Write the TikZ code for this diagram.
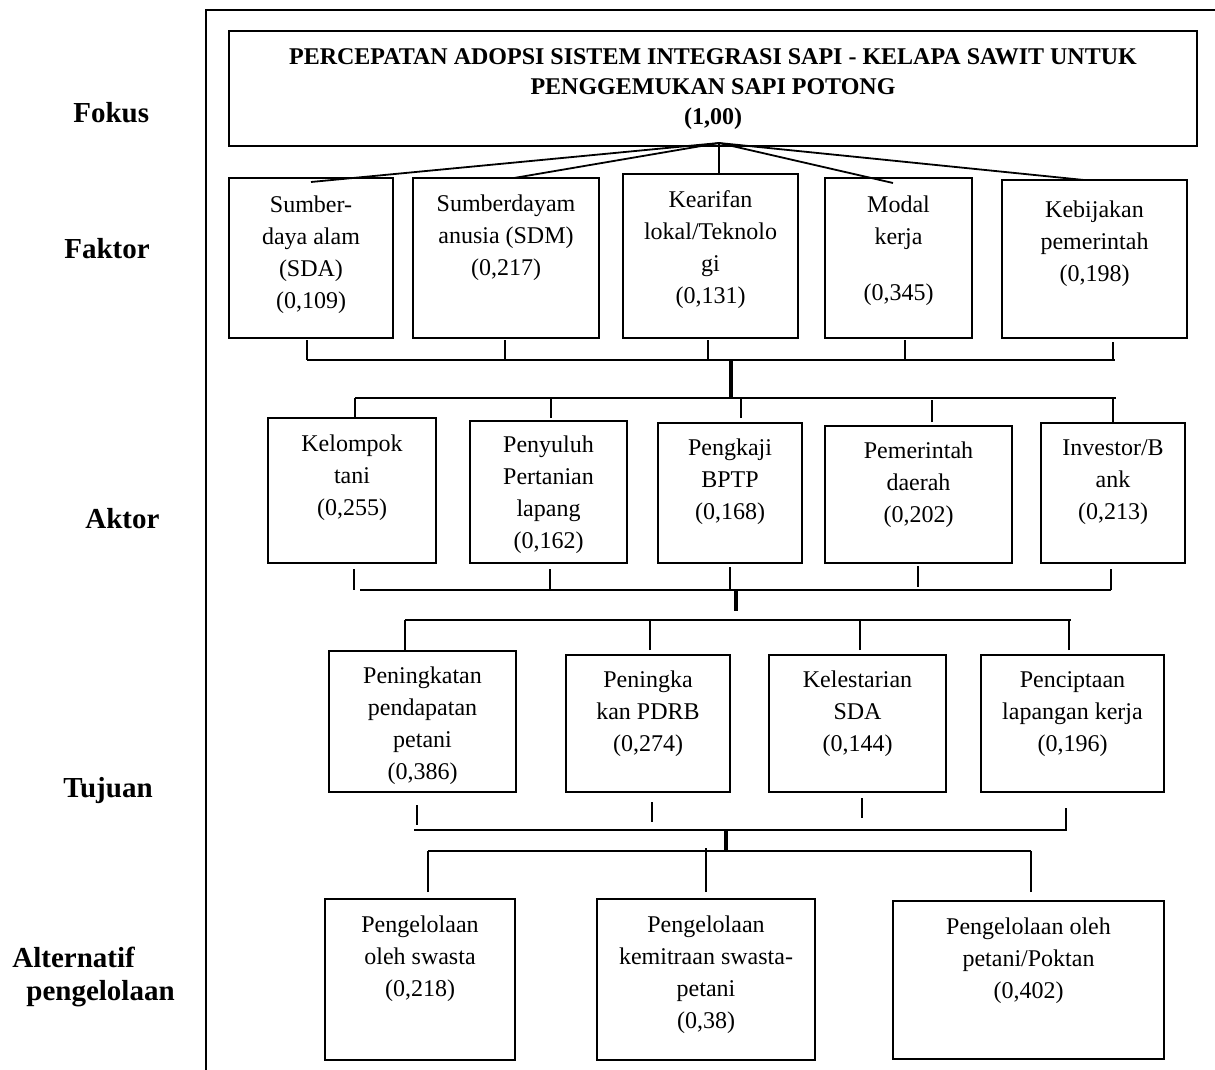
\documentclass[tikz,border=0pt]{standalone}
\usepackage{fontspec}
\setmainfont{Liberation Serif}
\usetikzlibrary{calc}
% #1 style, #2 name, #3 x1, #4 y1, #5 x2, #6 y2 (px), #7 first baseline offset (px), #8 text
\newcommand{\mkbox}[8]{%
  \node[#1] (#2) at (#3,#4) {\parbox[c][\dimexpr(#6pt-#4pt)/2\relax][t]{\dimexpr(#5pt-#3pt)/2\relax}{\centering\rule{0pt}{\dimexpr#7pt/2\relax}#8}};}
\begin{document}
\begin{tikzpicture}[x=0.5pt,y=-0.5pt,
  box/.style={draw, line width=1pt, inner sep=0pt, outer sep=0pt, anchor=north west,
    font=\fontsize{12}{16}\selectfont},
  ttl/.style={box, font=\bfseries\fontsize{12}{15}\selectfont},
  lbl/.style={inner sep=0pt, anchor=base west, font=\bfseries\fontsize{14.5}{16.5}\selectfont},
  bus/.style={line width=1pt},
  stub/.style={line width=0.7pt},
  trunk/.style={line width=2pt},
  fan/.style={line width=0.9pt},
  frame/.style={line width=1pt}]
\useasboundingbox (0,0) rectangle (1215,1070);

% frame
\coordinate (frbl) at (206,1072);
\coordinate (frtl) at (206,10);
\coordinate (frtr) at (1216,10);
\draw[frame] (frbl) -- (frtl) -- (frtr);

% level labels
\node[lbl] (lfokus) at (73,123) {Fokus};
\node[lbl] (lfaktor) at (64,258) {Faktor};
\node[lbl] (laktor) at (85,528) {Aktor};
\node[lbl] (ltujuan) at (63,797) {Tujuan};
\node[lbl] (lalt) at (12,967) {Alternatif};
\node[lbl] (lpeng) at (26,1000) {pengelolaan};

% focus
\mkbox{ttl}{title}{229}{31}{1197}{146}{34}{PERCEPATAN ADOPSI SISTEM INTEGRASI SAPI - KELAPA SAWIT UNTUK\\PENGGEMUKAN SAPI POTONG\\(1,00)}

% factors
\mkbox{box}{f1}{229}{178}{393}{338}{34}{Sumber-\\daya alam\\(SDA)\\(0,109)}
\mkbox{box}{f2}{413}{178}{599}{338}{33}{Sumberdayam\\anusia (SDM)\\(0,217)}
\mkbox{box}{f3}{623}{174}{798}{338}{33}{Kearifan\\lokal/Teknolo\\gi\\(0,131)}
\mkbox{box}{f4}{825}{178}{972}{338}{34}{Modal\\kerja\\[12pt](0,345)}
\mkbox{box}{f5}{1002}{180}{1187}{338}{37}{Kebijakan\\pemerintah\\(0,198)}

% actors
\mkbox{box}{a1}{268}{418}{436}{563}{33}{Kelompok\\tani\\(0,255)}
\mkbox{box}{a2}{470}{421}{627}{563}{31}{Penyuluh\\Pertanian\\lapang\\(0,162)}
\mkbox{box}{a3}{658}{423}{802}{563}{32}{Pengkaji\\BPTP\\(0,168)}
\mkbox{box}{a4}{825}{426}{1012}{563}{32}{Pemerintah\\daerah\\(0,202)}
\mkbox{box}{a5}{1041}{423}{1185}{563}{32}{Investor/B\\ank\\(0,213)}

% goals
\mkbox{box}{t1}{329}{651}{516}{792}{32}{Peningkatan\\pendapatan\\petani\\(0,386)}
\mkbox{box}{t2}{566}{655}{730}{792}{32}{Peningka\\kan PDRB\\(0,274)}
\mkbox{box}{t3}{769}{655}{946}{792}{32}{Kelestarian\\SDA\\(0,144)}
\mkbox{box}{t4}{981}{655}{1164}{792}{32}{Penciptaan\\lapangan kerja\\(0,196)}

% alternatives
\mkbox{box}{al1}{325}{899}{515}{1060}{33}{Pengelolaan\\oleh swasta\\(0,218)}
\mkbox{box}{al2}{597}{899}{815}{1060}{33}{Pengelolaan\\kemitraan swasta-\\petani\\(0,38)}
\mkbox{box}{al3}{893}{901}{1164}{1059}{33}{Pengelolaan oleh\\petani/Poktan\\(0,402)}

% fan from focus to factors
\coordinate (apex) at (719,143);
\draw[fan] (apex) -- ([yshift=-2pt]f1.north);
\draw[fan] (apex) -- ([xshift=4pt]f2.north);
\draw[fan] (apex) -- (apex |- f3.north);
\draw[fan] (apex) -- ([xshift=-2.75pt,yshift=-2.5pt]f4.north);
\draw[fan] (apex) -- ([xshift=-5.25pt]f5.north);

% factors -> actors
\coordinate (b1l) at (307,360); \coordinate (b1r) at (1115,360);
\draw[bus] (b1l) -- (b1r);
\draw[stub] ($(f1.south)+(-4,2)$) -- ++(0,20);
\draw[stub] ($(f2.south)+(-1,2)$) -- ++(0,20);
\draw[stub] ($(f3.south)+(-2.5,2)$) -- ++(0,20);
\draw[stub] ($(f4.south)+(6.5,2)$) -- ++(0,20);
\draw[stub] ($(f5.south)+(18.5,4)$) -- ++(0,18);
\coordinate (k1a) at (731,360); \coordinate (k1b) at (731,397);
\draw[trunk] (k1a) -- (k1b);
\coordinate (b2l) at (355,398); \coordinate (b2r) at (1116,398);
\draw[bus] (b2l) -- (b2r);
\draw[stub] ($(a1.north)+(3,0)$) -- ++(0,-20);
\draw[stub] ($(a2.north)+(2.5,-3)$) -- ++(0,-20);
\draw[stub] ($(a3.north)+(11,-5)$) -- ++(0,-20);
\draw[stub] ($(a4.north)+(13.5,-4)$) -- ++(0,-22);
\draw[stub] ($(a5.north)+(0,-1)$) -- ++(0,-24);

% actors -> goals
\draw[stub] ($(a1.south)+(2,6)$) -- ++(0,21);
\draw[stub] ($(a2.south)+(1.5,6)$) -- ++(0,21);
\draw[stub] ($(a3.south)+(0,4)$) -- ++(0,22);
\draw[stub] ($(a4.south)+(-0.5,3)$) -- ++(0,21);
\draw[stub] ($(a5.south)+(-2,6)$) -- ++(0,21);
\coordinate (b3l) at (360,590); \coordinate (b3r) at (1111,590);
\draw[bus] (b3l) -- (b3r);
\coordinate (k2a) at (736,590); \coordinate (k2b) at (736,611);
\draw[trunk] (k2a) -- (k2b);
\coordinate (b4l) at (405,620); \coordinate (b4r) at (1071,620);
\draw[bus] (b4l) -- (b4r);
\draw[stub] ($(t1.north)+(-17.5,-1)$) -- ++(0,-30);
\draw[stub] ($(t2.north)+(2,-5)$) -- ++(0,-30);
\draw[stub] ($(t3.north)+(2.5,-5)$) -- ++(0,-30);
\draw[stub] ($(t4.north)+(-3.5,-5)$) -- ++(0,-30);

% goals -> alternatives
\draw[stub] ($(t1.south)+(-5.5,13)$) -- ++(0,20);
\draw[stub] ($(t2.south)+(4,10)$) -- ++(0,20);
\draw[stub] ($(t3.south)+(4.5,6)$) -- ++(0,20);
\draw[stub] ($(t4.south)+(-6.5,16)$) -- ++(0,22);
\coordinate (b5l) at (414,830); \coordinate (b5r) at (1067,830);
\draw[bus] (b5l) -- (b5r);
\coordinate (k3a) at (726,830); \coordinate (k3b) at (726,850);
\draw[trunk] (k3a) -- (k3b);
\coordinate (b6l) at (428,851); \coordinate (b6r) at (1031,851);
\draw[bus] (b6l) -- (b6r);
\draw[stub] ($(al1.north)+(8,-7)$) -- ++(0,-41);
\draw[stub] ($(al2.north)+(0,-7)$) -- ++(0,-44);
\draw[stub] ($(al3.north)+(2.5,-9)$) -- ++(0,-41);
\end{tikzpicture}
\end{document}
